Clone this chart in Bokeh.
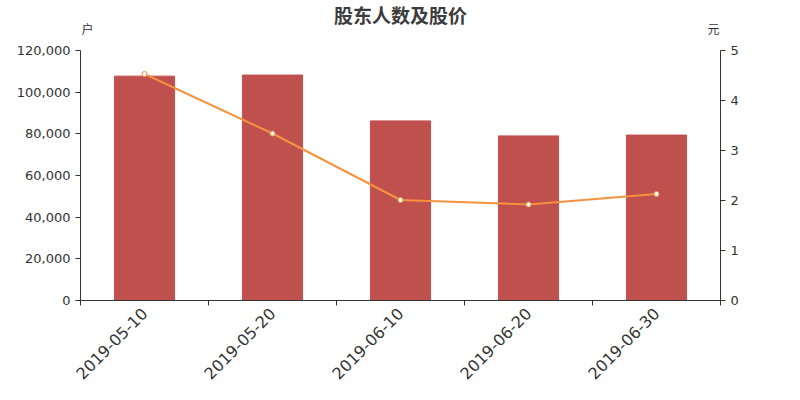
import math
from bokeh.plotting import figure
from bokeh.models import (ColumnDataSource, Range1d, LinearAxis, FixedTicker,
                          NumeralTickFormatter)
from bokeh.core.properties import value
from bokeh.embed import file_html
from bokeh.resources import INLINE

# ---- data ----
title = "股东人数及股价"
left_unit = "户"
right_unit = "元"
dates = ["2019-05-10", "2019-05-20", "2019-06-10", "2019-06-20", "2019-06-30"]
holders = [107700, 108200, 86200, 79000, 79400]
prices = [4.53, 3.34, 2.01, 1.92, 2.13]
left_ticks = [0, 20000, 40000, 60000, 80000, 100000, 120000]
right_ticks = [0, 1, 2, 3, 4, 5]

n = len(dates)
xs = [i + 0.5 for i in range(n)]
src = ColumnDataSource(dict(x=xs, holders=holders, prices=prices))

FONT = "DejaVu Sans"
CJK = "Noto Sans CJK SC"
TXT = "#333333"

# frame spans from the very top of the canvas; axes bounded to the data scale
LMAX = left_ticks[-1]
RMAX = right_ticks[-1]
TOP_FRAC = 300 / 250          # extra head-room for title and units
p = figure(width=800, height=400, output_backend="svg", toolbar_location=None,
           x_range=Range1d(0, n), y_range=Range1d(0, LMAX * TOP_FRAC),
           min_border_left=80, min_border_right=80, min_border_top=0,
           min_border_bottom=100, frame_width=640, frame_height=300,
           y_axis_location=None)
p.outline_line_color = None
p.grid.visible = False
p.background_fill_color = "white"
p.border_fill_color = "white"

p.extra_y_ranges = {"price": Range1d(0, RMAX * TOP_FRAC)}

p.vbar(x="x", top="holders", width=0.47, source=src, color="#c0504d")
p.line(x="x", y="prices", source=src, y_range_name="price",
       line_color="#f5923e", line_width=2)
p.scatter(x="x", y="prices", source=src, y_range_name="price", size=5,
          fill_color="white", line_color="#f5923e", line_width=1)

# x axis
xa = p.xaxis[0]
xa.ticker = FixedTicker(ticks=xs, minor_ticks=list(range(n + 1)))
xa.major_label_overrides = {x: d for x, d in zip(xs, dates)}
xa.major_label_orientation = math.pi / 4
xa.major_label_text_font = FONT
xa.major_label_text_font_size = "16px"
xa.major_label_text_color = TXT
xa.major_tick_out = 0
xa.major_tick_in = 0
xa.minor_tick_out = 5
xa.minor_tick_in = 0
xa.minor_tick_line_color = TXT
xa.axis_line_color = TXT

# left axis
la = LinearAxis(ticker=FixedTicker(ticks=left_ticks),
                formatter=NumeralTickFormatter(format="0,0"),
                bounds=(0, LMAX))
p.add_layout(la, "left")
# right axis
ra = LinearAxis(y_range_name="price", ticker=FixedTicker(ticks=right_ticks),
                bounds=(0, RMAX))
p.add_layout(ra, "right")
for ax in (la, ra):
    ax.major_label_text_font = FONT
    ax.major_label_text_font_size = "13px"
    ax.major_label_text_color = TXT
    ax.axis_line_color = TXT
    ax.major_tick_line_color = TXT
    ax.major_tick_out = 5
    ax.major_tick_in = 0
    ax.minor_tick_line_color = None

# title and unit texts (inside the head-room of the frame)
head = LMAX * TOP_FRAC
p.text(x=[n / 2], y=[head - 14 * LMAX / 250], text=[title],
       text_align="center", text_baseline="middle",
       text_font=value(CJK), text_font_size="19px", text_font_style="bold",
       text_color="#3c3c3c")
p.text(x=[0], y=[head - 28 * LMAX / 250], text=[left_unit],
       text_align="left", text_baseline="middle", x_offset=1,
       text_font=value(CJK), text_font_size="12px", text_color=TXT)
p.text(x=[n], y=[head - 28 * LMAX / 250], text=[right_unit],
       text_align="right", text_baseline="middle", x_offset=-1,
       text_font=value(CJK), text_font_size="12px", text_color=TXT)

open("out.html", "w").write(file_html(p, INLINE))
